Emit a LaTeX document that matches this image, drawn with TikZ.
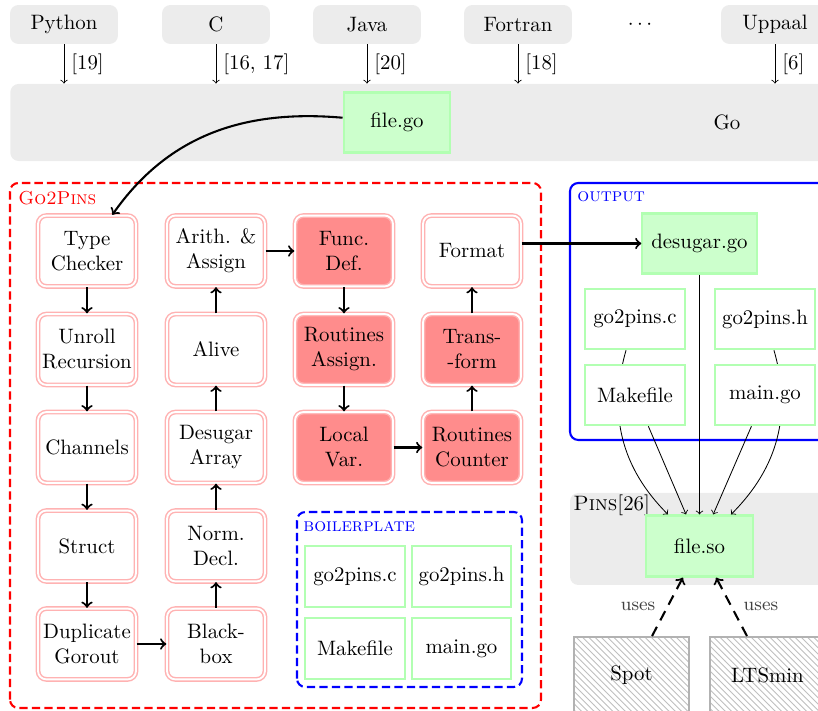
\documentclass[tikz,border=0pt]{standalone}
\usetikzlibrary{patterns}
\tikzset{
	langbox/.style={fill=gray!15, rounded corners=4pt, minimum width=51.8pt, minimum height=18.7pt},
	filebox/.style={draw=green!30, fill=white, line width=1pt, minimum width=47.6pt, minimum height=29pt},
	genbox/.style={filebox, fill=green!20},
	passbox/.style={draw=red!30, fill=white, double, double distance=0.9pt, line width=0.7pt, rounded corners=4pt, minimum width=47pt, minimum height=34pt, align=center, inner sep=1pt},
	hotpass/.style={passbox, fill=red!45},
	toolbox/.style={draw=gray!60, line width=0.9pt, pattern=north west lines, pattern color=gray!50, minimum width=55pt, minimum height=36.5pt},
	pipearrow/.style={->, line width=1pt},
	filearrow/.style={->},
	usesarrow/.style={->, line width=1pt, dash pattern=on 5pt off 3.5pt},
	grouplabel/.style={anchor=west, inner sep=0pt}
}

\begin{document}
\begin{tikzpicture}[x=0.48pt, y=0.48pt]
		%%%%% START %%%%%
		\useasboundingbox (0, 0) rectangle (818, 711);
		\clip (0, 0) rectangle (818, 711);
		
		% languages
		\node (go) [langbox, minimum width=688pt, minimum height=37pt] at (727, 588.5) {Go};
		\node (python) [langbox] at (64, 686.5) {Python};
		\node (clang) [langbox] at (216, 686.5) {C};
		\node (java) [langbox] at (367, 686.5) {Java};
		\node (fortran) [langbox] at (518, 686.5) {Fortran};
		\node (dots) at (640, 686.5) {$\cdots$};
		\node (uppaal) [langbox] at (775, 686.5) {Uppaal};
		
		\draw[filearrow] (python) -- (python |- go.north) node[midway, right] {[19]};
		\draw[filearrow] (clang) -- (clang |- go.north) node[midway, right] {[16, 17]};
		\draw[filearrow] (java) -- (java |- go.north) node[midway, right] {[20]};
		\draw[filearrow] (fortran) -- (fortran |- go.north) node[midway, right] {[18]};
		\draw[filearrow] (uppaal) -- (uppaal |- go.north) node[midway, right] {[6]};
		
		\node (filego) [genbox, minimum width=51.3pt, minimum height=28.8pt] at (397, 588.5) {file.go};
		
		% go2pins
		\draw[red, line width=1pt, dash pattern=on 4pt off 2pt, rounded corners=4pt] (10, 3) rectangle (541, 528);
		\node[grouplabel, red] at (18, 513) {\small\textsc{Go2Pins}};
		
		\node (tc) [passbox] at (87, 460) {Type\\Checker};
		\node (unroll) [passbox] at (87, 361.5) {Unroll\\Recursion};
		\node (chan) [passbox] at (87, 263.5) {Channels};
		\node (struct) [passbox] at (87, 165) {Struct};
		\node (dup) [passbox] at (87, 67) {Duplicate\\Gorout};
		
		\node (black) [passbox] at (216, 67) {Black-\\box};
		\node (norm) [passbox] at (216, 165) {Norm.\\Decl.};
		\node (desarr) [passbox] at (216, 263.5) {Desugar\\Array};
		\node (alive) [passbox] at (216, 361.5) {Alive};
		\node (arith) [passbox] at (216, 460) {Arith. \&\\Assign};
		
		\node (funcdef) [hotpass] at (344, 460) {Func.\\Def.};
		\node (rassign) [hotpass] at (344, 361.5) {Routines\\Assign.};
		\node (localvar) [hotpass] at (344, 263.5) {Local\\Var.};
		
		\node (rcounter) [hotpass] at (472, 263.5) {Routines\\Counter};
		\node (trans) [hotpass] at (472, 361.5) {Trans-\\-form};
		\node (format) [passbox] at (472, 460) {Format};
		
		\draw[pipearrow] (filego) to[out=175, in=55] (tc);
		\draw[pipearrow] (tc) -- (unroll);
		\draw[pipearrow] (unroll) -- (chan);
		\draw[pipearrow] (chan) -- (struct);
		\draw[pipearrow] (struct) -- (dup);
		\draw[pipearrow] (dup) -- (black);
		\draw[pipearrow] (black) -- (norm);
		\draw[pipearrow] (norm) -- (desarr);
		\draw[pipearrow] (desarr) -- (alive);
		\draw[pipearrow] (alive) -- (arith);
		\draw[pipearrow] (arith) -- (funcdef);
		\draw[pipearrow] (funcdef) -- (rassign);
		\draw[pipearrow] (rassign) -- (localvar);
		\draw[pipearrow] (localvar) -- (rcounter);
		\draw[pipearrow] (rcounter) -- (trans);
		\draw[pipearrow] (trans) -- (format);
		
		% boilerplate
		\draw[blue, line width=1pt, dash pattern=on 4pt off 2pt, rounded corners=4pt] (297, 24) rectangle (522, 199);
		\node[grouplabel, blue] at (303, 184) {\small\textsc{boilerplate}};
		\node (bpc) [filebox] at (355, 134.5) {go2pins.c};
		\node (bph) [filebox] at (461.5, 134.5) {go2pins.h};
		\node (bpmake) [filebox] at (355, 62.5) {Makefile};
		\node (bpmain) [filebox] at (461.5, 62.5) {main.go};
		
		% output and pins
		\draw[blue, line width=1pt, rounded corners=4pt] (570, 271) rectangle (830, 528);
		\node[grouplabel, blue] at (577, 514) {\small\textsc{output}};
		\draw[fill=gray!15, draw=none, rounded corners=4pt] (570, 126) rectangle (830, 218);
		\node[grouplabel] at (573, 206) {\textsc{Pins}[26]};
		
		\node (desugar) [genbox, minimum width=54.8pt, minimum height=28.8pt] at (699.5, 467.5) {desugar.go};
		\node (outc) [filebox] at (635, 392) {go2pins.c};
		\node (outh) [filebox] at (765, 392) {go2pins.h};
		\node (fileso) [genbox, minimum width=51pt, minimum height=29.3pt] at (699.5, 165) {file.so};
		
		\draw[filearrow] (outc) to[out=-106, in=135] (fileso);
		\draw[filearrow] (outh) to[out=-74, in=45] (fileso);
		
		\node (outmake) [filebox] at (635, 316) {Makefile};
		\node (outmain) [filebox] at (765, 316) {main.go};
		
		\draw[filearrow] (outmake) -- (fileso);
		\draw[filearrow] (outmain) -- (fileso);
		\draw[filearrow] (desugar) -- (fileso);
		\draw[pipearrow] (format.east |- desugar) -- (desugar);
		
		% model checkers
		\node (spot) [toolbox] at (631.5, 36) {Spot};
		\node (ltsmin) [toolbox] at (767.5, 36) {LTSmin};
		\draw[usesarrow] (spot) -- (fileso) node[midway, left=2pt, black!75] {\small uses};
		\draw[usesarrow] (ltsmin) -- (fileso) node[midway, right=2pt, black!75] {\small uses};
		%%%%% END %%%%%
	\end{tikzpicture}
\end{document}
